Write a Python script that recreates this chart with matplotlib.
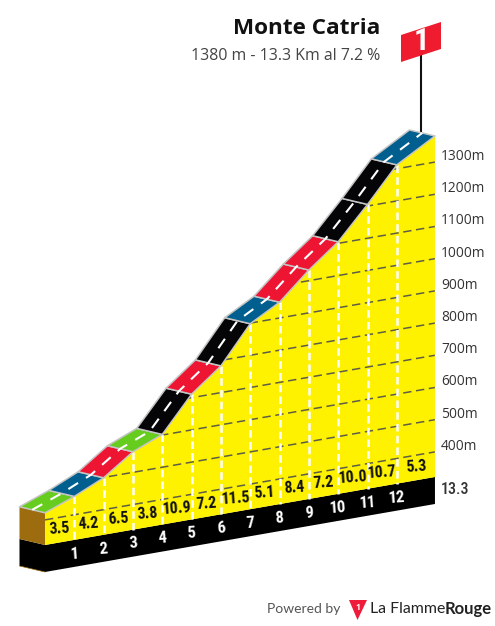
import numpy as np
import matplotlib
matplotlib.use("Agg")
import matplotlib.pyplot as plt
from matplotlib.patches import Polygon
from matplotlib import font_manager

# Climb data
km = [0, 1, 2, 3, 4, 5, 6, 7, 8, 9, 10, 11, 12, 13.3]
elevation = [422, 457, 499, 564, 602, 711, 783, 898, 949, 1033, 1105, 1205, 1312, 1381]
grades = [3.5, 4.2, 6.5, 3.8, 10.9, 7.2, 11.5, 5.1, 8.4, 7.2, 10.0, 10.7, 5.3]
grade_colors = ['#66cc1e', '#005f8e', '#ee1533', '#66cc1e', '#050507', '#ee1533', '#050507',
                '#005f8e', '#ee1533', '#ee1533', '#050507', '#050507', '#005f8e']
km_ticks = [1, 2, 3, 4, 5, 6, 7, 8, 9, 10, 11, 12]
grid_levels = [400, 500, 600, 700, 800, 900, 1000, 1100, 1200, 1300]

base_elev = 322

# Pick a narrow face for the small numbers, these are not on every machine
names = {f.name for f in font_manager.fontManager.ttflist}
narrow = 'Roboto'
for candidate in ['Roboto Condensed', 'Barlow Condensed', 'Archivo Narrow', 'Liberation Sans Narrow']:
    if candidate in names:
        narrow = candidate
        break


# Oblique projection, km and metres to picture position
def project(k, e):
    k = np.asarray(k, dtype=float)
    e = np.asarray(e, dtype=float)
    x = 45 + k * 29.32
    y = 545 - 0.1744 * (x - 45) - (e - base_elev) * 0.322
    return x, y


fig = plt.figure(figsize=(4.95, 6.26), dpi=100)
ax = fig.add_axes([0, 0, 1, 1])
ax.set_xlim(0, 495)
ax.set_ylim(626, 0)
ax.axis('off')

front_x, front_y = project(km, elevation)
base_x, base_y = project(km, [base_elev] * len(km))
road_dx, road_dy = -25.5, -6

# Black band under the profile
band = 27
ax.add_patch(Polygon([(base_x[0], base_y[0]), (base_x[-1], base_y[-1]),
                      (base_x[-1], base_y[-1] + band), (base_x[0], base_y[0] + band),
                      (base_x[0] + road_dx, base_y[0] + band + road_dy),
                      (base_x[0] + road_dx, base_y[0] + road_dy)],
                     fc='black', ec='none', zorder=1))
ax.plot([base_x[0] + road_dx, base_x[0]],
        [base_y[0] + band + road_dy, base_y[0] + band],
        color='#9c6c0f', lw=0.5, zorder=1.5)

# Brown side of the start
ax.add_patch(Polygon([(front_x[0], front_y[0]), (base_x[0], base_y[0]),
                      (base_x[0] + road_dx, base_y[0] + road_dy),
                      (front_x[0] + road_dx, front_y[0] + road_dy)],
                     fc='#9c6c0f', ec='none', zorder=2))

# Yellow face
face = Polygon(list(zip(front_x, front_y)) + [(base_x[-1], base_y[-1]), (base_x[0], base_y[0])],
               fc='#fff200', ec='none', zorder=2)
ax.add_patch(face)

# Elevation grid
for level in grid_levels:
    x, y = project([0, km[-1]], [level, level])
    line, = ax.plot(x, y, color='#5e5e48', lw=1.1, dashes=(5.5, 3), zorder=3)
    line.set_clip_path(face)
    ax.text(441, y[1] - 5.5, f'{level}m', family='Open Sans', fontsize=9.9,
            color='#333333', ha='left', va='center', zorder=6)

# Km separators
for k in km_ticks:
    x, y_top = project(k, elevation[km.index(k)])
    x, y_bot = project(k, base_elev)
    ax.plot([x, x], [y_top, y_bot], color='white', lw=1.8, dashes=(3, 1.7), zorder=4)
    ax.text(x, y_bot + 14, str(k), family=narrow, weight='bold', fontsize=12,
            color='white', ha='center', va='center', rotation=4, zorder=6)

# Road pieces coloured by gradient
for i, color in enumerate(grade_colors):
    ax.add_patch(Polygon([(front_x[i], front_y[i]), (front_x[i + 1], front_y[i + 1]),
                          (front_x[i + 1] + road_dx, front_y[i + 1] + road_dy),
                          (front_x[i] + road_dx, front_y[i] + road_dy)],
                         fc=color, ec='#c4c4c4', lw=1.1, joinstyle='round', zorder=5))
    mid = (km[i] + km[i + 1]) / 2
    x, y = project(mid, base_elev)
    ax.text(x, y - 13.5, f'{grades[i]:.1f}', family=narrow, weight='bold', fontsize=11.5,
            color='#111111', ha='center', va='center', rotation=4, zorder=6)

# Dashed centre line
ax.plot(front_x + road_dx / 2, front_y + road_dy / 2, color='white', lw=1.5,
        dashes=(5.5, 4.5), zorder=5.5)

ax.text(441, 490, '13.3', family=narrow, weight='medium', fontsize=11.5, color='#333333',
        ha='left', va='center', zorder=6)

# Summit flag
pole_x = 420.5
ax.plot([pole_x, pole_x], [55, 132], color='#111111', lw=1.5, zorder=4.5)
ax.add_patch(Polygon([(401, 35), (441, 22), (441, 49), (401, 62)], fc='#ee1c2e', ec='none', zorder=6))
ax.text(421, 41.5, '1', family=narrow, weight='bold', fontsize=22, color='white',
        ha='center', va='center', zorder=7)

# Title
ax.text(380, 29, 'Monte Catria', family='Open Sans', weight='bold', fontsize=16.2,
        color='#111111', ha='right', va='center')
ax.text(380, 56, '1380 m - 13.3 Km al 7.2 %', family='Open Sans', fontsize=11.4,
        color='#444444', ha='right', va='center')

# Footer
ax.text(267, 609, 'Powered by', family='Lato', fontsize=10, color='#555555', ha='left', va='center')
ax.add_patch(Polygon([(349, 600), (367, 600), (357.5, 620)], fc='#ee1c3a', ec='none'))
ax.text(357.5, 607.5, '1', family='Open Sans', weight='bold', fontsize=6, color='white',
        ha='center', va='center')
ax.text(445, 609, 'La Flamme', family='Lato', fontsize=11.4, color='#222222', ha='right', va='center')
ax.text(445, 609, 'Rouge', family='Lato', weight='bold', fontsize=12, color='#222222',
        ha='left', va='center')

fig.savefig('out.png', dpi=100)
